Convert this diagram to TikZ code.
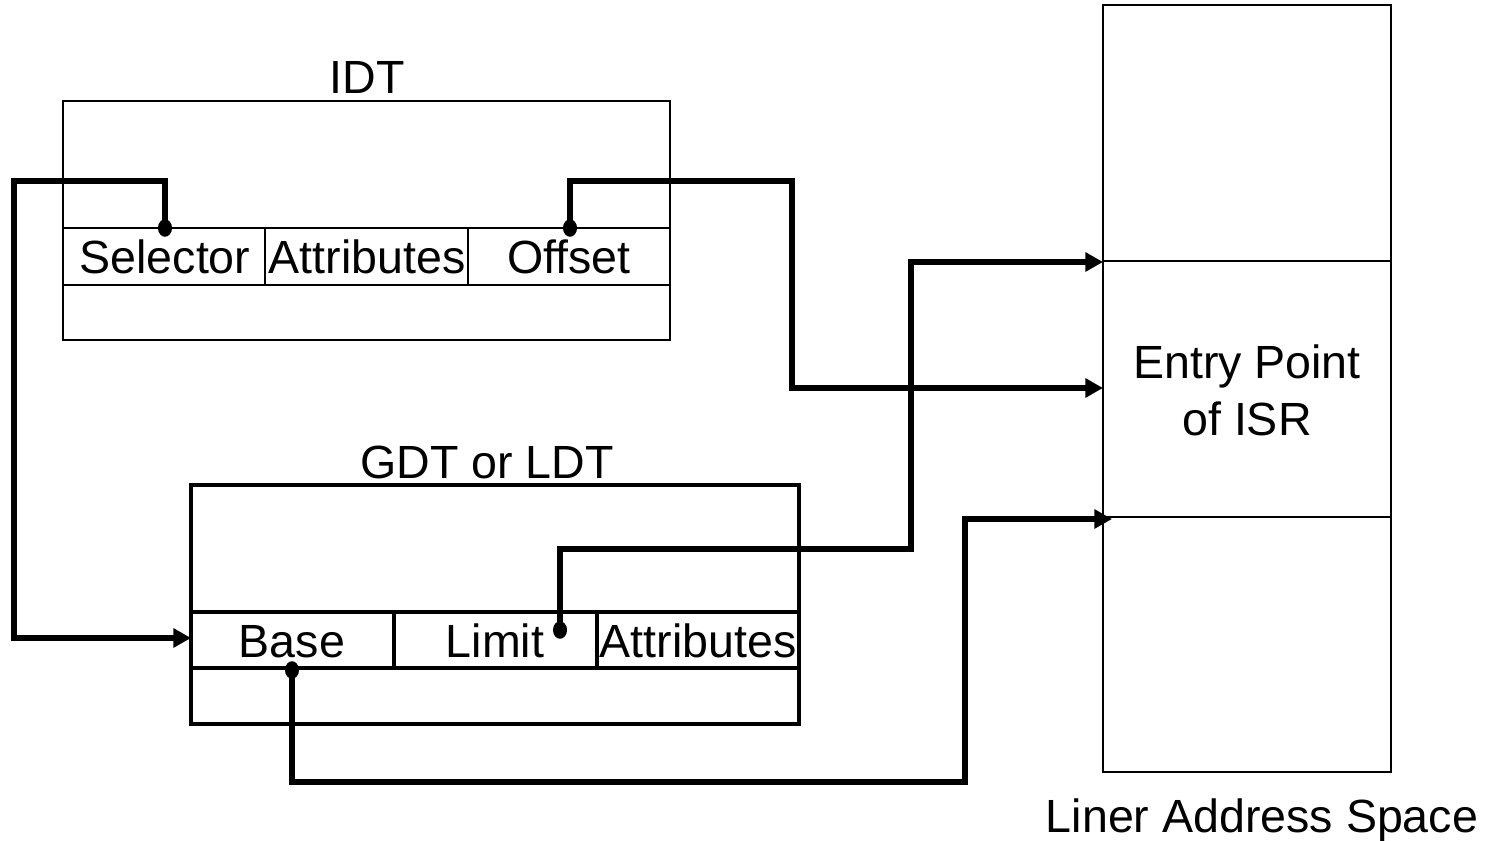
\documentclass[tikz,border=0pt]{standalone}
\usepackage{fontspec}
\setmainfont{Liberation Sans}
\usetikzlibrary{arrows.meta}
\begin{document}
\begin{tikzpicture}[x=0.02cm,y=-0.02cm,
  thinbox/.style={draw,line width=1.1pt},
  thickbox/.style={draw,line width=2.2pt},
  lbl/.style={font=\fontsize{26.5}{32}\selectfont, inner sep=0pt, anchor=base},
  wire/.style={line width=3.3pt, line join=miter},
  conn/.style={wire, -{Triangle[length=10pt,width=10.5pt]}},
  dotmark/.style={fill=black}
]
\useasboundingbox (0,0) rectangle (1495,841);

% IDT table
\draw[thinbox] (63,101) rectangle (670,340);
\draw[thinbox] (63,228) -- (670,228);
\draw[thinbox] (63,285) -- (670,285);
\draw[thinbox] (265,228) -- (265,285);
\draw[thinbox] (468,228) -- (468,285);
\node[lbl] (idt) at (367,94) {IDT};
\node[lbl] (sel) at (165,274) {Selector};
\node[lbl] (idtattr) at (367,274) {Attributes};
\node[lbl] (off) at (569,274) {Offset};

% GDT table
\draw[thickbox] (191,485) rectangle (799,724);
\draw[thickbox] (191,612) -- (799,612);
\draw[thickbox] (191,668) -- (799,668);
\draw[thickbox] (394,612) -- (394,668);
\draw[thickbox] (597,612) -- (597,668);
\node[lbl] (gdt) at (487,478) {GDT or LDT};
\node[lbl] (base) at (292,657) {Base};
\node[lbl] (limit) at (495,657) {Limit};
\node[lbl] (gdtattr) at (698,657) {Attributes};

% Linear address space
\draw[thinbox] (1103,5) rectangle (1391,772);
\draw[thinbox] (1103,261) -- (1391,261);
\draw[thinbox] (1103,517) -- (1391,517);
\node[lbl] (entry) at (1247,378) {Entry Point};
\node[lbl] (isr) at (1247,435) {of ISR};
\node[lbl] (lin) at (1262,832) {Liner Address Space};

% connector end points
\coordinate (selDot) at (165,228);
\coordinate (offDot) at (570,228);
\coordinate (limDot) at (560,630);
\coordinate (baseDot) at (292,670);
\coordinate (gdtIn) at (191,638);
\coordinate (linTop) at (1103,262);
\coordinate (linMid) at (1103,388);
\coordinate (linBot) at (1112,519);

% connectors
\draw[conn] (selDot) |- (14,181) |- (gdtIn);
\draw[conn] (offDot) |- (792,181) |- (linMid);
\draw[conn] (limDot) |- (911,549) |- (linTop);
\draw[conn] (baseDot) |- (965,782) |- (linBot);

% dots
\foreach \p in {selDot,offDot,limDot,baseDot}
  \fill[dotmark] (\p) ellipse [x radius=4pt, y radius=5pt];
\end{tikzpicture}
\end{document}
